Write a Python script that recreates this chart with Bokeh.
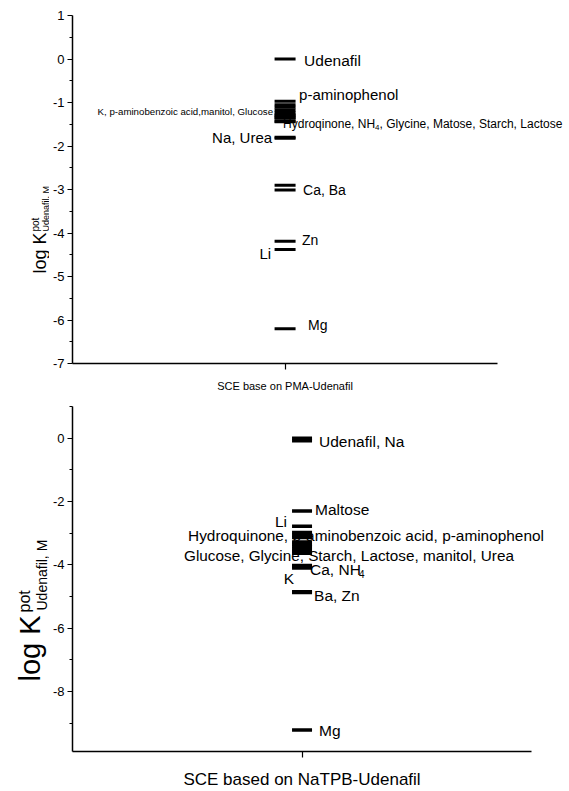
import math
from bokeh.plotting import figure
from bokeh.layouts import column, row
from bokeh.models import Label, FixedTicker, Range1d
from bokeh.core.properties import value
from bokeh.embed import file_html
from bokeh.resources import INLINE

FONT = "Liberation Sans"

# ---------------- data: upper panel ----------------
pma_category = "SCE base on PMA-Udenafil"
pma_species = ["Udenafil", "p-aminophenol",
               "K", "p-aminobenzoic acid", "manitol", "Glucose",
               "Hydroqinone", "NH4", "Glycine", "Matose", "Starch", "Lactose",
               "Na", "Urea", "Ca", "Ba", "Zn", "Li", "Mg"]
pma_logk = [0.0, -0.97,
            -1.05, -1.11, -1.17, -1.23,
            -1.29, -1.30, -1.35, -1.36, -1.43, -1.44,
            -1.80, -1.82, -2.90, -3.01, -4.19, -4.38, -6.20]
pma_ticks = [1, 0, -1, -2, -3, -4, -5, -6, -7]
pma_minor = [0.5, -0.5, -1.5, -2.5, -3.5, -4.5, -5.5, -6.5]

# ---------------- data: lower panel ----------------
tpb_category = "SCE based on NaTPB-Udenafil"
tpb_species = ["Udenafil", "Na", "Maltose", "Li",
               "Hydroquinone", "p-aminobenzoic acid", "p-aminophenol",
               "Glucose", "Glycine", "Starch", "Lactose", "manitol", "Urea",
               "Ca", "NH4", "K", "Ba", "Zn", "Mg"]
tpb_logk = [0.0, -0.08, -2.30, -2.78,
            -2.98, -3.06, -3.14,
            -3.28, -3.35, -3.42, -3.50, -3.57, -3.64,
            -4.02, -4.05, -4.10, -4.85, -4.88, -9.22]
tpb_ticks = [0, -2, -4, -6, -8]
tpb_minor = [1, -1, -3, -5, -7, -9]

LW = 49          # width of the strip that carries the rotated y title
MW = 569 - LW    # width of the main plot


def make_fig(cat, height, y0, y1, top, bottom, x_end, ticks, minor, tick_size, cat_size, cat_standoff):
    p = figure(width=MW, height=height, x_range=Range1d(-1, x_end),
               y_range=Range1d(y0, y1), output_backend="svg", toolbar_location=None,
               min_border_left=71 - LW, min_border_right=0, min_border_top=top,
               min_border_bottom=bottom)
    p.outline_line_color = None
    p.xgrid.visible = False
    p.ygrid.visible = False
    p.background_fill_color = "white"
    p.border_fill_color = "white"
    yax = p.yaxis[0]
    yax.ticker = FixedTicker(ticks=ticks, minor_ticks=minor)
    yax.major_label_overrides = {t: str(t) for t in ticks}
    yax.major_tick_in = 0
    yax.major_tick_out = 5
    yax.minor_tick_in = 0
    yax.minor_tick_out = 3
    yax.axis_line_width = 1.5
    yax.major_tick_line_width = 1.2
    yax.minor_tick_line_width = 1.2
    yax.major_label_text_font = FONT
    yax.major_label_text_font_size = tick_size
    yax.major_label_text_color = "black"
    yax.major_label_standoff = 3
    xax = p.xaxis[0]
    xax.ticker = FixedTicker(ticks=[0], minor_ticks=[])
    xax.major_label_overrides = {0: cat}
    xax.bounds = (-1, 1)
    xax.major_tick_in = 0
    xax.major_tick_out = 6
    xax.axis_line_width = 1.5
    xax.major_tick_line_width = 1.2
    xax.major_label_text_font = FONT
    xax.major_label_text_font_size = cat_size
    xax.major_label_text_color = "black"
    xax.major_label_standoff = cat_standoff
    return p


def make_title_strip(height, top, bottom):
    f = figure(width=LW, height=height, x_range=Range1d(0, LW),
               y_range=Range1d(height - bottom, top), output_backend="svg",
               toolbar_location=None, min_border_left=0, min_border_right=0,
               min_border_top=top, min_border_bottom=bottom,
               x_axis_type=None, y_axis_type=None)
    f.outline_line_color = None
    f.background_fill_color = "white"
    f.border_fill_color = "white"
    return f


def ytitle(f, x, y, text, size):
    f.text(x=[x], y=[y], text=[text], angle=math.pi / 2, text_font=value(FONT),
           text_font_size=value(size), text_align="left", text_baseline="middle",
           text_color="black")


def lab(p, y, dx, dy, text, size, align="left"):
    p.add_layout(Label(x=0, y=y, x_offset=dx, y_offset=-dy, text=text,
                       text_font=FONT, text_font_size=size, text_align=align,
                       text_baseline="middle", text_color="black"))


# ---------------- upper panel ----------------
cats1 = [pma_category]
p1 = make_fig(pma_category, 395, -7, 1, 15, 32, (569 - 284) / 213, pma_ticks, pma_minor,
              "13px", "11px", 10)
p1.scatter(x=[cats1.index(pma_category)] * len(pma_logk), y=pma_logk, marker="dash",
           size=21, line_width=3, line_color="black")
v1 = dict(zip(pma_species, pma_logk))
lab(p1, v1["Udenafil"], 19, 1.5, "Udenafil", "15.5px")
lab(p1, v1["p-aminophenol"], 14, -6.5, "p-aminophenol", "15px")
lab(p1, v1["K"], -12, 6.5, "K, p-aminobenzoic acid,manitol, Glucose", "9.7px", "right")
lab(p1, v1["Hydroqinone"], -2, 8.5, "Hydroqinone, NH", "12px")
lab(p1, v1["Hydroqinone"], 90, 12, "4", "8px")
lab(p1, v1["Hydroqinone"], 94.5, 8.5, ", Glycine, Matose, Starch, Lactose", "12px")
lab(p1, v1["Na"], -13, 0, "Na, Urea", "15px", "right")
lab(p1, v1["Ca"], 18, 5, "Ca, Ba", "14px")
lab(p1, v1["Zn"], 17, -1, "Zn", "14px")
lab(p1, v1["Li"], -14, 4, "Li", "15px", "right")
lab(p1, v1["Mg"], 23, -4, "Mg", "14px")

t1 = make_title_strip(395, 15, 32)
ytitle(t1, 39, 273, "log K", "18px")
ytitle(t1, 34.5, 231, "pot", "10px")
ytitle(t1, 45, 231, "Udenafil, M", "9px")

# ---------------- lower panel ----------------
cats2 = [tpb_category]
p2 = make_fig(tpb_category, 396, -9.9, 1, 11, 40, (569 - 301) / 230, tpb_ticks, tpb_minor,
              "13px", "17px", 12)
p2.scatter(x=[cats2.index(tpb_category)] * len(tpb_logk), y=tpb_logk, marker="dash",
           size=20, line_width=3.5, line_color="black")
v2 = dict(zip(tpb_species, tpb_logk))
lab(p2, v2["Udenafil"], 17, 3, "Udenafil, Na", "15.5px")
lab(p2, v2["Maltose"], 13, -1.5, "Maltose", "15.5px")
lab(p2, v2["Li"], -15, -5, "Li", "15.5px", "right")
lab(p2, v2["Hydroquinone"], -114, 3, "Hydroquinone, p-aminobenzoic acid, p-aminophenol", "15.4px")
lab(p2, v2["Glucose"], -118, 13.5, "Glucose, Glycine, Starch, Lactose, manitol, Urea", "15.3px")
lab(p2, v2["Ca"], 8, 4, "Ca, NH", "15.5px")
lab(p2, v2["Ca"], 57, 9, "4", "10px")
lab(p2, v2["K"], -8, 11, "K", "15.5px", "right")
lab(p2, v2["Ba"], 12, 4, "Ba, Zn", "15.5px")
lab(p2, v2["Mg"], 17, 0.5, "Mg", "15.5px")

# lower strip: y positions measured from the top of the lower row
t2 = make_title_strip(396, 11, 40)
ytitle(t2, 29, 286, "log K", "29px")
ytitle(t2, 23.5, 217, "pot", "16px")
ytitle(t2, 41, 215, "Udenafil, M", "14px")

layout = column(row(t1, p1, spacing=0), row(t2, p2, spacing=0), spacing=0)
open("out.html", "w").write(file_html(layout, INLINE))
